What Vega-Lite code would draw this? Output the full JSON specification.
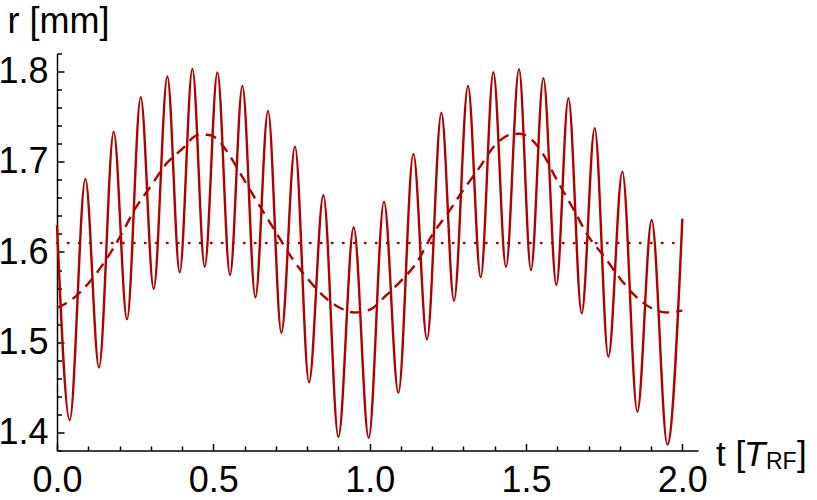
{
  "$schema": "https://vega.github.io/schema/vega-lite/v6.json",
  "width": 641,
  "height": 397,
  "autosize": {"type": "none"},
  "padding": {"left": 57, "top": 53.5, "right": 119, "bottom": 49.5},
  "config": {
    "view": {"stroke": null},
    "font": "Liberation Sans",
    "axis": {"labelOverlap": false, "labelFlush": false, "labelBound": false, "grid": false, "domainColor": "black", "domainWidth": 1.5, "tickColor": "black", "tickWidth": 1.5, "labelColor": "black", "labelFontSize": 36, "labelFont": "Liberation Sans"}
  },
  "datasets": {
    "orbit": [
      {"t": 0.0, "r": 1.630}, {"t": 0.0406, "r": 1.4136}, {"t": 0.0907, "r": 1.681}, {"t": 0.1343, "r": 1.472},
      {"t": 0.1813, "r": 1.7334}, {"t": 0.2239, "r": 1.5253}, {"t": 0.2677, "r": 1.7716}, {"t": 0.3092, "r": 1.559},
      {"t": 0.353, "r": 1.7945}, {"t": 0.3924, "r": 1.5775}, {"t": 0.433, "r": 1.803}, {"t": 0.4723, "r": 1.5837},
      {"t": 0.513, "r": 1.7989}, {"t": 0.5533, "r": 1.5745}, {"t": 0.5929, "r": 1.7841}, {"t": 0.6345, "r": 1.5497},
      {"t": 0.6748, "r": 1.7564}, {"t": 0.7176, "r": 1.5105}, {"t": 0.7611, "r": 1.7168}, {"t": 0.8059, "r": 1.4555},
      {"t": 0.8519, "r": 1.6629}, {"t": 0.8999, "r": 1.3951}, {"t": 0.9488, "r": 1.6274}, {"t": 0.9968, "r": 1.394},
      {"t": 1.0457, "r": 1.6558}, {"t": 1.0918, "r": 1.4439}, {"t": 1.1397, "r": 1.7087}, {"t": 1.1833, "r": 1.5031},
      {"t": 1.2293, "r": 1.7545}, {"t": 1.2696, "r": 1.546}, {"t": 1.3144, "r": 1.7841}, {"t": 1.355, "r": 1.572},
      {"t": 1.3956, "r": 1.7993}, {"t": 1.4359, "r": 1.5833}, {"t": 1.4775, "r": 1.8027}, {"t": 1.5158, "r": 1.58},
      {"t": 1.5555, "r": 1.7927}, {"t": 1.5971, "r": 1.5634}, {"t": 1.6355, "r": 1.7705}, {"t": 1.678, "r": 1.532},
      {"t": 1.7196, "r": 1.7372}, {"t": 1.7633, "r": 1.4839}, {"t": 1.8081, "r": 1.6891}, {"t": 1.8561, "r": 1.4229},
      {"t": 1.9018, "r": 1.6355}, {"t": 1.952, "r": 1.3867}, {"t": 2.0, "r": 1.637}
    ],
    "center": [
      {"t": 0.0, "r": 1.538}, {"t": 0.05, "r": 1.548}, {"t": 0.1, "r": 1.565}, {"t": 0.15, "r": 1.588},
      {"t": 0.2, "r": 1.616}, {"t": 0.25, "r": 1.648}, {"t": 0.3, "r": 1.673}, {"t": 0.35, "r": 1.698},
      {"t": 0.4, "r": 1.714}, {"t": 0.45, "r": 1.7295}, {"t": 0.48, "r": 1.730}, {"t": 0.51, "r": 1.726},
      {"t": 0.55, "r": 1.708}, {"t": 0.6, "r": 1.679}, {"t": 0.65, "r": 1.650}, {"t": 0.7, "r": 1.622},
      {"t": 0.75, "r": 1.594}, {"t": 0.8, "r": 1.571}, {"t": 0.85, "r": 1.552}, {"t": 0.9, "r": 1.539},
      {"t": 0.95, "r": 1.533}, {"t": 1.0, "r": 1.536}, {"t": 1.05, "r": 1.551}, {"t": 1.1, "r": 1.568},
      {"t": 1.15, "r": 1.588}, {"t": 1.2, "r": 1.619}, {"t": 1.25, "r": 1.643}, {"t": 1.3, "r": 1.669},
      {"t": 1.35, "r": 1.693}, {"t": 1.4, "r": 1.718}, {"t": 1.45, "r": 1.730}, {"t": 1.48, "r": 1.731},
      {"t": 1.51, "r": 1.727}, {"t": 1.55, "r": 1.711}, {"t": 1.6, "r": 1.679}, {"t": 1.65, "r": 1.6485},
      {"t": 1.7, "r": 1.617}, {"t": 1.75, "r": 1.595}, {"t": 1.8, "r": 1.571}, {"t": 1.85, "r": 1.551},
      {"t": 1.9, "r": 1.538}, {"t": 1.95, "r": 1.533}, {"t": 2.0, "r": 1.535}
    ],
    "mean": [{"t": 0.0, "r": 1.610}, {"t": 2.0, "r": 1.610}],
    "anchor": [{"t": 2.05, "r": 1.38}]
  },
  "encoding": {
    "x": {
      "field": "t", "type": "quantitative",
      "scale": {"domain": [0, 2.05], "nice": false, "zero": false},
      "axis": {
        "values": [0, 0.1, 0.2, 0.3, 0.4, 0.5, 0.6, 0.7, 0.8, 0.9, 1.0, 1.1, 1.2, 1.3, 1.4, 1.5, 1.6, 1.7, 1.8, 1.9, 2.0],
        "title": null,
        "labelOverlap": false,
        "tickSize": {"condition": {"test": "abs(datum.value*2 - round(datum.value*2)) < 0.001", "value": -7}, "value": -4.5},
        "labelExpr": "abs(datum.value*2 - round(datum.value*2)) < 0.001 ? format(datum.value, '.1f') : ''",
        "labelPadding": 20
      }
    },
    "y": {
      "field": "r", "type": "quantitative",
      "scale": {"domain": [1.38, 1.82], "nice": false, "zero": false},
      "axis": {
        "values": [1.38, 1.4, 1.42, 1.44, 1.46, 1.48, 1.5, 1.52, 1.54, 1.56, 1.58, 1.6, 1.62, 1.64, 1.66, 1.68, 1.7, 1.72, 1.74, 1.76, 1.78, 1.8, 1.82],
        "title": "r [mm]",
        "titleAngle": 0, "titleAlign": "left", "titleBaseline": "alphabetic",
        "titleX": -50, "titleY": -21,
        "titleFontSize": 36, "titleFontWeight": "normal", "titleColor": "black", "titleFont": "Liberation Sans",
        "labelOverlap": false,
        "tickSize": {"condition": {"test": "abs(datum.value*10 - round(datum.value*10)) < 0.001", "value": -7}, "value": -4.5},
        "labelExpr": "abs(datum.value*10 - round(datum.value*10)) < 0.001 ? format(datum.value, '.1f') : ''",
        "labelPadding": 16
      }
    }
  },
  "layer": [
    {
      "data": {"name": "mean"},
      "mark": {"type": "line", "color": "#b00000", "strokeWidth": 2.5, "strokeCap": "round", "strokeDash": [0.5, 10.5]}
    },
    {
      "data": {"name": "center"},
      "mark": {"type": "line", "color": "#b00000", "strokeWidth": 2.4, "strokeDash": [11, 7], "interpolate": "monotone"}
    },
    {
      "data": {"name": "orbit"},
      "mark": {"type": "line", "color": "#b00000", "strokeWidth": 2.4, "interpolate": "monotone"}
    },
    {
      "data": {"name": "anchor"},
      "mark": {"type": "text", "text": "t [", "font": "Liberation Sans", "fontSize": 35, "color": "black", "align": "left", "baseline": "alphabetic", "dx": 18, "dy": 15}
    },
    {
      "data": {"name": "anchor"},
      "mark": {"type": "text", "text": "T", "font": "Liberation Sans", "fontStyle": "italic", "fontSize": 35, "color": "black", "align": "left", "baseline": "alphabetic", "dx": 46, "dy": 15}
    },
    {
      "data": {"name": "anchor"},
      "mark": {"type": "text", "text": "RF", "font": "Liberation Sans", "fontSize": 23, "color": "black", "align": "left", "baseline": "alphabetic", "dx": 68, "dy": 18}
    },
    {
      "data": {"name": "anchor"},
      "mark": {"type": "text", "text": "]", "font": "Liberation Sans", "fontSize": 35, "color": "black", "align": "left", "baseline": "alphabetic", "dx": 99, "dy": 15}
    }
  ]
}
